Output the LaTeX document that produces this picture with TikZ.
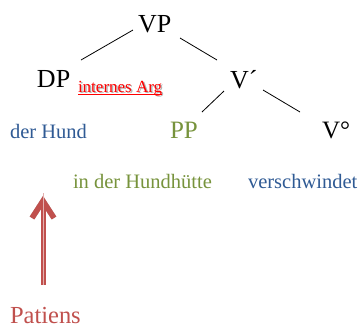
\documentclass[tikz,border=0pt]{standalone}
\usepackage{fontspec}
\setmainfont{Liberation Serif}
\definecolor{tblue}{HTML}{2F5A94}
\definecolor{tgreen}{HTML}{77933C}
\definecolor{tred}{HTML}{C0504D}
\definecolor{argred}{HTML}{FF0000}
\tikzset{
  lbl/.style={anchor=base west, inner sep=0pt, outer sep=0pt},
  cat/.style={lbl, font=\fontsize{26}{26}\selectfont},
  word/.style={lbl, font=\fontsize{20.5}{20.5}\selectfont},
  edge/.style={draw=black, line width=0.8pt},
  arrline/.style={line width=5pt, line cap=butt, line join=miter},
}
\begin{document}
\begin{tikzpicture}[x=1pt,y=-1pt]
\useasboundingbox (0,0) rectangle (362,327);
% category labels
\node[cat] (vp) at (138,32) {VP};
\node[cat] (dp) at (37,87) {DP};
\node[cat] (vbar) at (230,88) {V´};
\node[cat, text=tgreen, font=\fontsize{25}{25}\selectfont] (pp) at (170,138) {PP};
\node[cat, font=\fontsize{25}{25}\selectfont] (v0) at (322,138) {V°};
% internes Arg with shadow
\node[lbl, font=\fontsize{17}{17}\selectfont, text=black!30] at (79.5,93.5) {internes Arg};
\node[lbl, font=\fontsize{17}{17}\selectfont, text=argred] (arg) at (78,92) {internes Arg};
\draw[argred, line width=1pt] (arg.base west) ++(0,2.5) coordinate (ul1) -- (arg.base east |- ul1);
% words
\node[word, text=tblue] (hund) at (10,138) {der Hund};
\node[word, text=tgreen] (huette) at (73,188) {in der Hundhütte};
\node[word, text=tblue] (verb) at (248,188) {verschwindet};
\node[lbl, text=tred, font=\fontsize{24.5}{24.5}\selectfont] (pat) at (10,323) {Patiens};
% tree edges
\coordinate (vp-l) at (133,30);
\coordinate (dp-t) at (81,60);
\coordinate (vp-r) at (180,38);
\coordinate (vb-t) at (217,60);
\coordinate (vb-l) at (224,91);
\coordinate (pp-t) at (202,112);
\coordinate (vb-r) at (263,90);
\coordinate (v0-t) at (300,112);
\draw[edge] (vp-l) -- (dp-t);
\draw[edge] (vp-r) -- (vb-t);
\draw[edge] (vb-l) -- (pp-t);
\draw[edge] (vb-r) -- (v0-t);
% arrow
\coordinate (arr-s) at (43,285);
\coordinate (arr-e) at (43,201);
\coordinate (wing-l) at (32,218);
\coordinate (wing-r) at (54,218);
% shadow
\begin{scope}[shift={(1.5,2)}, black!25]
\draw[arrline] (arr-s) -- (arr-e);
\draw[arrline, line width=5.5pt] (wing-l) -- (arr-e) -- (wing-r);
\end{scope}
\draw[arrline, tred] (arr-s) -- (arr-e);
\draw[arrline, tred, line width=5.5pt] (wing-l) -- (arr-e) -- (wing-r);
\draw[tred!45!white, line width=0.8pt] ([xshift=0.5pt]arr-s) -- ([xshift=0.5pt,yshift=8pt]arr-e);
\end{tikzpicture}
\end{document}
